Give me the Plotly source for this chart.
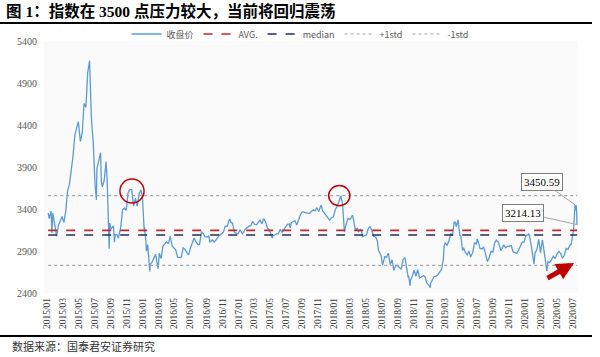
import plotly.graph_objects as go

# ---------------- data ----------------
dates = [
 "2015-01-05","2015-01-09","2015-01-16","2015-01-19","2015-01-23","2015-01-30","2015-02-06","2015-02-13","2015-02-27",
 "2015-03-06","2015-03-13","2015-03-20","2015-03-27","2015-04-03","2015-04-10","2015-04-17","2015-04-24","2015-04-30",
 "2015-05-08","2015-05-15","2015-05-22","2015-05-29","2015-06-05","2015-06-12","2015-06-19","2015-06-26","2015-07-03",
 "2015-07-08","2015-07-10","2015-07-17","2015-07-24","2015-07-27","2015-07-31","2015-08-07","2015-08-14","2015-08-18",
 "2015-08-21","2015-08-26","2015-08-28","2015-09-02","2015-09-11","2015-09-15","2015-09-18","2015-09-25","2015-09-30",
 "2015-10-09","2015-10-16","2015-10-23","2015-10-30","2015-11-06","2015-11-13","2015-11-20","2015-11-27","2015-12-04",
 "2015-12-11","2015-12-18","2015-12-25","2015-12-31",
 "2016-01-04","2016-01-07","2016-01-08","2016-01-13","2016-01-15","2016-01-20","2016-01-22","2016-01-26","2016-01-28",
 "2016-01-29","2016-02-05","2016-02-19","2016-02-26","2016-02-29","2016-03-04","2016-03-11","2016-03-18","2016-03-25",
 "2016-04-01","2016-04-08","2016-04-15","2016-04-22","2016-04-29","2016-05-06","2016-05-13","2016-05-20","2016-05-27",
 "2016-06-03","2016-06-08","2016-06-17","2016-06-24","2016-07-01","2016-07-08","2016-07-15","2016-07-22","2016-07-29",
 "2016-08-05","2016-08-12","2016-08-19","2016-08-26","2016-09-02","2016-09-09","2016-09-14","2016-09-23","2016-09-30",
 "2016-10-14","2016-10-21","2016-10-28","2016-11-04","2016-11-11","2016-11-18","2016-11-25","2016-11-29","2016-12-02",
 "2016-12-09","2016-12-16","2016-12-23","2016-12-30",
 "2017-01-06","2017-01-13","2017-01-16","2017-01-20","2017-01-26","2017-02-10","2017-02-17","2017-02-24","2017-03-03",
 "2017-03-10","2017-03-17","2017-03-24","2017-03-31","2017-04-07","2017-04-14","2017-04-21","2017-04-28","2017-05-05",
 "2017-05-10","2017-05-12","2017-05-19","2017-05-26","2017-06-02","2017-06-09","2017-06-16","2017-06-23","2017-06-30",
 "2017-07-07","2017-07-14","2017-07-17","2017-07-21","2017-07-28","2017-08-04","2017-08-11","2017-08-18","2017-08-25",
 "2017-09-01","2017-09-08","2017-09-15","2017-09-22","2017-09-29","2017-10-13","2017-10-20","2017-10-27","2017-11-03",
 "2017-11-10","2017-11-13","2017-11-17","2017-11-24","2017-12-01","2017-12-08","2017-12-15","2017-12-22","2017-12-29",
 "2018-01-05","2018-01-12","2018-01-19","2018-01-24","2018-01-26","2018-02-02","2018-02-09","2018-02-14","2018-02-23",
 "2018-03-02","2018-03-09","2018-03-12","2018-03-16","2018-03-23","2018-03-30","2018-04-04","2018-04-13","2018-04-20",
 "2018-04-27","2018-05-04","2018-05-11","2018-05-18","2018-05-25","2018-06-01","2018-06-08","2018-06-15","2018-06-19",
 "2018-06-22","2018-06-29","2018-07-05","2018-07-06","2018-07-13","2018-07-20","2018-07-27","2018-08-03","2018-08-10",
 "2018-08-17","2018-08-24","2018-08-31","2018-09-07","2018-09-14","2018-09-21","2018-09-28","2018-10-11","2018-10-12",
 "2018-10-18","2018-10-19","2018-10-26","2018-11-02","2018-11-09","2018-11-16","2018-11-23","2018-11-30","2018-12-07",
 "2018-12-14","2018-12-21","2018-12-28",
 "2019-01-03","2019-01-04","2019-01-11","2019-01-18","2019-01-25","2019-02-01","2019-02-15","2019-02-22","2019-02-25",
 "2019-03-01","2019-03-08","2019-03-15","2019-03-22","2019-03-29","2019-04-04","2019-04-08","2019-04-12","2019-04-19",
 "2019-04-26","2019-04-30","2019-05-06","2019-05-10","2019-05-17","2019-05-24","2019-05-31","2019-06-06","2019-06-14",
 "2019-06-21","2019-06-28","2019-07-01","2019-07-05","2019-07-12","2019-07-19","2019-07-26","2019-08-02","2019-08-09",
 "2019-08-16","2019-08-23","2019-08-30","2019-09-06","2019-09-12","2019-09-20","2019-09-27","2019-09-30","2019-10-11",
 "2019-10-18","2019-10-25","2019-11-01","2019-11-08","2019-11-15","2019-11-22","2019-11-29","2019-12-06","2019-12-13",
 "2019-12-20","2019-12-27","2019-12-31",
 "2020-01-03","2020-01-10","2020-01-14","2020-01-17","2020-01-23","2020-02-03","2020-02-07","2020-02-14","2020-02-21",
 "2020-02-28","2020-03-06","2020-03-13","2020-03-19","2020-03-20","2020-03-23","2020-03-27","2020-04-03","2020-04-10",
 "2020-04-17","2020-04-24","2020-04-30","2020-05-08","2020-05-15","2020-05-22","2020-05-29","2020-06-05","2020-06-12",
 "2020-06-19","2020-06-24","2020-07-03","2020-07-06","2020-07-07","2020-07-09","2020-07-10","2020-07-13","2020-07-14",
 "2020-07-15","2020-07-16","2020-07-17",
]
close = [
 3351,3285,3376,3116,3351,3210,3076,3203,3310,
 3241,3372,3617,3691,3863,4034,4287,4394,4441,
 4205,4308,4657,4611,5023,5166,4478,4192,3686,
 3507,3877,3957,4070,3725,3664,3744,3965,3748,
 3508,2927,3232,3160,3200,3005,3097,3092,3053,
 3183,3391,3412,3383,3590,3632,3630,3436,3525,
 3435,3578,3628,3539,
 3296,3125,3186,3018,2900,2977,2916,2750,2656,
 2737,2763,2860,2767,2688,2874,2810,2955,2979,
 3009,2985,3078,2959,2938,2913,2827,2825,2822,
 2938,2927,2885,2854,2932,2988,3054,3012,2979,
 2976,3125,3108,3070,3067,3078,3002,3033,3005,
 3063,3091,3104,3125,3196,3192,3261,3282,3243,
 3232,3122,3110,3104,
 3154,3112,3104,3123,3159,3196,3202,3253,3218,
 3212,3237,3269,3223,3286,3246,3173,3155,3103,
 3052,3083,3090,3107,3105,3158,3123,3158,3192,
 3218,3222,3176,3238,3253,3262,3209,3268,3332,
 3365,3365,3353,3352,3349,3390,3378,3416,3371,
 3433,3447,3382,3353,3317,3289,3266,3297,3307,
 3391,3429,3487,3559,3558,3462,3129,3199,3289,
 3273,3307,3326,3269,3152,3169,3131,3159,3071,
 3082,3091,3163,3193,3141,3075,3067,3022,2908,
 2889,2847,2733,2747,2831,2829,2873,2740,2795,
 2669,2729,2725,2702,2682,2797,2821,2583,2606,
 2486,2550,2598,2676,2598,2679,2579,2588,2605,
 2593,2516,2494,
 2464,2514,2553,2596,2601,2618,2682,2804,2961,
 2994,2969,3021,3104,3090,3246,3245,3189,3270,
 3086,3078,2906,2939,2882,2853,2899,2828,2882,
 3001,2979,3044,3011,2931,2924,2944,2868,2774,
 2823,2898,2886,2999,3031,3006,2932,2905,2973,
 2938,2955,2958,2964,2891,2885,2871,2912,2968,
 3005,3005,3050,
 3084,3092,3106,3075,2977,2746,2876,2917,3039,
 2880,3034,2887,2702,2745,2660,2772,2764,2797,
 2838,2809,2860,2895,2868,2814,2853,2930,2920,
 2968,2980,3153,3333,3345,3450.59,3384,3444,3415,
 3361,3210,3214.13,
]

avg_value = 3145
median_value = 3090
plus_std_value = 3560
minus_std_value = 2730

series_names = ["收盘价", "AVG.", "median", "+1std", "-1std"]
y_ticks = [2400, 2900, 3400, 3900, 4400, 4900, 5400]

peak_label = ("2020-07-09", 3450.59)
last_label = ("2020-07-17", 3214.13)
circles = [("2015-10-06", "2016-01-06", 3470, 3757),
           ("2017-12-11", "2018-03-02", 3440, 3680)]

title_text = "<b>图 1：指数在 3500 点压力较大，当前将回归震荡</b>"
source_text = "数据来源：国泰君安证券研究"

# ---------------- layout helpers ----------------
W, H = 600, 357
L, R, T, B = 44, 22, 41, 64
PW, PH = W - L - R, H - T - B

def px(x):
    return (x - L) / PW

def py(y):
    return (H - B - y) / PH

serif = "Liberation Serif, Times New Roman, serif"
cjk = "Liberation Serif, Noto Sans CJK SC, sans-serif"

fig = go.Figure()
fig.add_trace(go.Scatter(x=dates, y=close, mode="lines", name=series_names[0],
                         line=dict(color="#5b9bd5", width=1.3)))
x_span = [dates[0], dates[-1]]
for name, val, col, dash in [
    (series_names[1], avg_value, "#c0282d", "dash"),
    (series_names[2], median_value, "#1f2f5f", "dash"),
    (series_names[3], plus_std_value, "#a6a6a6", "dot"),
    (series_names[4], minus_std_value, "#a6a6a6", "dot"),
]:
    fig.add_trace(go.Scatter(x=x_span, y=[val, val], mode="lines", name=name,
                             line=dict(color=col, width=1.6 if dash == "dash" else 1.2, dash=dash)))

shapes = []
for x0, x1, y0, y1 in circles:
    shapes.append(dict(type="circle", xref="x", yref="y", x0=x0, x1=x1, y0=y0, y1=y1,
                       line=dict(color="#c00000", width=1.5)))
# header & footer rules
shapes.append(dict(type="line", xref="paper", yref="paper", x0=px(0), x1=px(592),
                   y0=py(23), y1=py(23), line=dict(color="black", width=2)))
shapes.append(dict(type="line", xref="paper", yref="paper", x0=px(0), x1=px(592),
                   y0=py(336), y1=py(336), line=dict(color="black", width=2)))

annotations = [
    dict(x=peak_label[0], y=peak_label[1], xref="x", yref="y", text=f"{peak_label[1]:.2f}",
         showarrow=True, arrowhead=0, arrowcolor="#a6a6a6", arrowwidth=1, ax=-33, ay=-23,
         bordercolor="#7f7f7f", borderwidth=1, borderpad=2, bgcolor="white",
         font=dict(family=serif, size=11, color="black")),
    dict(x=last_label[0], y=last_label[1], xref="x", yref="y", text=f"{last_label[1]:.2f}",
         showarrow=True, arrowhead=0, arrowcolor="#a6a6a6", arrowwidth=1, ax=-54, ay=-12,
         bordercolor="#7f7f7f", borderwidth=1, borderpad=2, bgcolor="white",
         font=dict(family=serif, size=11, color="black")),
    dict(x=px(574), y=py(263), xref="paper", yref="paper", text="", showarrow=True,
         arrowhead=2, arrowsize=0.7, arrowwidth=5, arrowcolor="#c00000", ax=-28, ay=16),
    dict(x=px(4), y=py(11), xref="paper", yref="paper", text=title_text, showarrow=False,
         xanchor="left", yanchor="middle", font=dict(family=cjk, size=15.5, color="black")),
    dict(x=px(10), y=py(346), xref="paper", yref="paper", text=source_text, showarrow=False,
         xanchor="left", yanchor="middle", font=dict(family="Noto Sans CJK SC", size=11, color="#333333")),
]

fig.update_layout(
    width=W, height=H,
    margin=dict(l=L, r=R, t=T, b=B, pad=0, autoexpand=False),
    paper_bgcolor="white", plot_bgcolor="#fafafa",
    showlegend=True,
    legend=dict(orientation="h", xref="container", yref="container",
                x=300 / W, xanchor="center", y=1 - 34 / H, yanchor="middle",
                font=dict(family="Noto Sans CJK SC, sans-serif", size=9, color="#595959"),
                bgcolor="rgba(0,0,0,0)", itemwidth=30, tracegroupgap=0),
    shapes=shapes, annotations=annotations,
    xaxis=dict(type="date", range=["2014-12-20", "2020-07-20"], tickmode="linear",
               tick0="2015-01-01", dtick="M2", tickformat="%Y/%m", tickangle=-90,
               showgrid=False, zeroline=False, showline=False, ticks="", automargin=False,
               tickfont=dict(family=serif, size=9.5, color="#404040"), ticklabelstandoff=2),
    yaxis=dict(range=[2400, 5400], tickmode="array", tickvals=y_ticks, automargin=False,
               showgrid=False, zeroline=False, showline=False, ticks="",
               tickfont=dict(family=serif, size=10, color="#595959"), ticklabelstandoff=6),
)

fig.write_html("out.html", config={"displayModeBar": False},
               post_script="document.body.style.margin='0';document.body.style.overflow='hidden';")
